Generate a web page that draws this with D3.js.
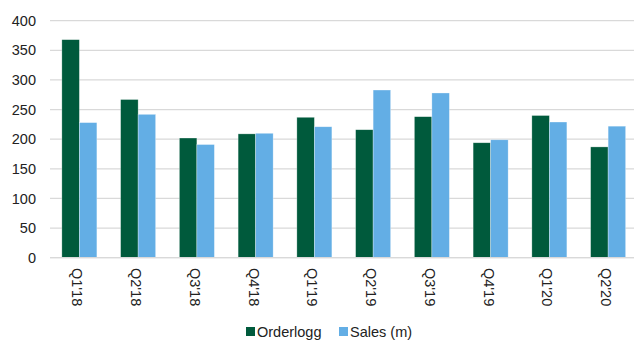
<!DOCTYPE html>
<html>
<head>
<meta charset="utf-8">
<script src="https://cdn.jsdelivr.net/npm/d3@7"></script>
<style>
  html, body { margin: 0; padding: 0; background: #fff; }
  svg { display: block; font-family: "Liberation Sans", Arial, sans-serif; }
</style>
</head>
<body>
<div id="chart"></div>
<script>
const categories = ["Q1'18", "Q2'18", "Q3'18", "Q4'18", "Q1'19", "Q2'19", "Q3'19", "Q4'19", "Q1'20", "Q2'20"];
const seriesNames = ["Orderlogg", "Sales (m)"];
const orderlogg = [368, 267, 202, 209, 237, 216, 238, 194, 240, 187];
const sales = [228, 242, 191, 210, 221, 283, 278, 199, 229, 222];
const yTicks = [0, 50, 100, 150, 200, 250, 300, 350, 400];
const colors = ["#005A3C", "#63AEE5"];

const W = 636, H = 340;
const margin = { left: 50, right: -1.5, top: 20.7, bottom: 82.3 };

const svg = d3.select("#chart").append("svg").attr("width", W).attr("height", H);

const x = d3.scaleBand().domain(categories).range([margin.left, W - margin.right]).paddingInner(0.404).paddingOuter(0.202);
const xs = d3.scaleBand().domain(seriesNames).range([0, x.bandwidth()]);
const y = d3.scaleLinear().domain([0, 400]).range([H - margin.bottom, margin.top]);

// gridlines
svg.append("g").selectAll("line").data(yTicks).join("line")
  .attr("x1", margin.left).attr("x2", 634)
  .attr("y1", d => y(d)).attr("y2", d => y(d))
  .attr("stroke", "#d9d9d9").attr("stroke-width", 1.2);

// y labels
svg.append("g").selectAll("text").data(yTicks).join("text")
  .attr("x", 36).attr("y", d => y(d)).attr("dy", "0.35em")
  .attr("text-anchor", "end").attr("font-size", 14.5).attr("fill", "#222")
  .text(d => d);

const data = categories.map((c, i) => ({ c, vals: [orderlogg[i], sales[i]] }));

const g = svg.append("g").selectAll("g").data(data).join("g")
  .attr("transform", d => `translate(${x(d.c)},0)`);
g.selectAll("rect").data(d => d.vals.map((v, j) => ({ v, s: seriesNames[j], j }))).join("rect")
  .attr("x", d => xs(d.s)).attr("width", xs.bandwidth())
  .attr("y", d => y(d.v)).attr("height", d => y(0) - y(d.v))
  .attr("fill", d => colors[d.j])
  .attr("stroke", "#ffffff").attr("stroke-opacity", 0.5).attr("stroke-width", 0.6);

// baseline
svg.append("line").attr("x1", margin.left).attr("x2", 634)
  .attr("y1", y(0)).attr("y2", y(0)).attr("stroke", "#d9d9d9").attr("stroke-width", 1.2);

// x labels
svg.append("g").selectAll("text").data(categories).join("text")
  .attr("transform", d => `translate(${x(d) + x.bandwidth() / 2 - 2},268) rotate(90)`)
  .attr("dy", "0.35em").attr("text-anchor", "start")
  .attr("font-size", 14.5).attr("fill", "#222")
  .text(d => d);

// legend
const legendItems = [
  { name: seriesNames[0], color: colors[0], x: 246 },
  { name: seriesNames[1], color: colors[1], x: 339 }
];
const lg = svg.append("g").selectAll("g").data(legendItems).join("g")
  .attr("transform", d => `translate(${d.x},327)`);
lg.append("rect").attr("width", 9).attr("height", 9).attr("fill", d => d.color);
lg.append("text").attr("x", 11).attr("y", 4.5).attr("dy", "0.35em")
  .attr("font-size", 14.5).attr("fill", "#222").text(d => d.name);
</script>
</body>
</html>
